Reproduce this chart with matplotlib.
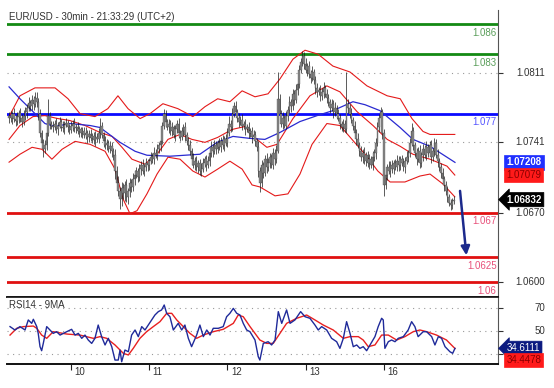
import numpy as np
import matplotlib
matplotlib.use("Agg")
import matplotlib.pyplot as plt

plt.rcParams['font.family'] = ['Liberation Sans', 'DejaVu Sans']

title = "EUR/USD - 30min - 21:33:29 (UTC+2)"
rsi_title = "RSI14 - 9MA"

# ---- price bars (30 min) : price = 1.0600 + pips / 10000 ----
base_price = 1.0600
first_open_pips = 166
close_pips = [
    168, 166, 170, 165, 163, 167, 171, 166, 162, 168,
    172, 176, 181, 178, 184, 180, 186, 182,
    170, 150, 140, 134, 138,
    150, 168, 160, 158,
    156, 160, 154, 158, 162, 157, 155, 159, 161, 156, 153, 158, 160, 155, 157, 152,
    154, 150, 152, 148, 150, 146, 149, 145, 147, 143, 146, 144, 150, 158,
    148, 142, 138, 140, 134, 137, 132, 128,
    112, 100, 92, 84, 95, 90, 98, 86, 92, 100, 96, 104,
    108, 112, 106, 114, 118, 112, 116, 120, 118,
    122, 126, 124, 130, 128, 134, 138, 142,
    158, 170, 162, 156,
    160, 152, 156, 148, 154, 160, 150, 146, 152, 156, 148, 142, 138, 132,
    124, 118, 122, 116, 120, 112, 114, 120, 124, 118, 122,
    130, 136, 132, 138, 134, 140, 136, 142, 138, 144, 140,
    150, 160, 156, 170, 178, 172,
    166, 162, 164, 158, 160, 154, 156, 150, 152, 146, 148, 142, 136,
    112, 100, 118, 110, 124, 116, 120, 126, 118, 130, 124, 132,
    185, 170, 160, 166, 158, 168, 174, 182, 178, 190, 184, 194, 200, 214,
    222, 228, 220, 214, 218, 210, 206, 212, 204,
    196, 192, 194, 188, 192, 196, 190, 186,
    182, 176, 180, 172, 176, 170, 166, 160,
    156, 160, 154, 180, 176,
    170, 164, 158, 150, 144, 138,
    132, 126, 130, 122, 128, 120, 124, 118, 126, 130, 140, 156,
    166, 172, 150,
    98, 108, 116,
    112, 118, 114, 120, 116, 122, 118, 124, 120, 116, 122, 126, 130, 140,
    152, 138, 130,
    124, 132, 120, 128, 134,
    128, 136, 130, 138, 126, 132, 140, 128, 122,
    116, 110, 104, 98, 92, 86, 80, 78, 82, 83.2]
upper_wick_pips = [
    4, 5, 3, 6, 4, 5, 3, 5, 4, 6,  5, 4, 6, 3, 5, 4, 6, 6, 4, 5,
    3, 4, 5, 6, 17, 4, 3, 5, 4, 6,  4, 5, 3, 6, 4, 5, 3, 4, 5, 4,
    6, 3, 5, 4, 3, 5, 4, 6, 3, 4,  5, 3, 4, 6, 4, 5, 8, 4, 3, 5,
    4, 3, 5, 4, 3, 6, 5, 7, 4, 6,  5, 4, 6, 3, 5, 4, 6, 5, 4, 3,
    5, 4, 6, 3, 5, 4, 3, 5, 4, 6,  4, 5, 3, 6, 4, 5, 4, 3, 5, 4,
    6, 3, 5, 4, 6, 3, 5, 4, 6, 3,  4, 5, 3, 6, 4, 5, 3, 4, 6, 5,
    3, 4, 5, 4, 6, 3, 5, 4, 3, 5,  4, 6, 3, 5, 5, 8, 4, 6, 4, 5,
    3, 5, 4, 6, 3, 5, 4, 6, 3, 4,  5, 4, 3, 6, 4, 5, 3, 4, 6, 5,
    4, 3, 5, 4, 6, 27, 5, 4, 6, 3,  5, 4, 6, 3, 5, 4, 6, 4, 5, 4,
    5, 4, 6, 3, 5, 4, 6, 3, 4, 5,  3, 5, 4, 6, 3, 5, 4, 3, 5, 4,
    6, 3, 5, 4, 3, 5, 4, 32, 5, 4,  6, 3, 5, 4, 6, 3, 5, 4, 6, 3,
    4, 5, 3, 6, 4, 5, 6, 4, 5, 3,  4, 5, 3, 6, 4, 5, 3, 4, 6, 5,
    3, 4, 5, 4, 6, 3, 5, 9, 4, 3,  5, 4, 6, 3, 5, 4, 6, 3, 4, 5,
    3, 5, 4, 6, 3, 4, 5, 3, 4, 5,  3, 4, 3, 4]
lower_wick_pips = [
    5, 4, 6, 3, 5, 4, 6, 4, 5, 3,  4, 6, 3, 5, 4, 6, 3, 5, 6, 4,
    5, 8, 4, 5, 3, 6, 4, 5, 3, 4,  6, 3, 5, 4, 6, 3, 5, 4, 3, 6,
    4, 5, 3, 6, 4, 5, 3, 4, 6, 5,  3, 5, 4, 6, 3, 4, 5, 3, 6, 4,
    5, 3, 4, 6, 5, 8, 6, 5, 10, 7,  6, 8, 5, 7, 6, 5, 4, 6, 3, 5,
    4, 6, 3, 5, 4, 6, 5, 3, 4, 5,  3, 5, 4, 6, 3, 4, 5, 3, 6, 4,
    5, 3, 6, 4, 5, 4, 3, 5, 6, 4,  5, 4, 6, 3, 5, 4, 6, 4, 5, 3,
    4, 6, 3, 5, 4, 6, 3, 5, 4, 3,  5, 4, 6, 3, 4, 3, 5, 4, 3, 5,
    4, 6, 3, 5, 4, 6, 3, 5, 4, 6,  3, 5, 4, 6, 9, 4, 5, 3, 6, 4,
    5, 3, 4, 6, 4, 2, 5, 4, 6, 3,  4, 5, 3, 6, 4, 5, 3, 5, 4, 3,
    4, 5, 3, 6, 4, 5, 3, 4, 6, 5,  3, 5, 4, 6, 3, 5, 4, 5, 3, 6,
    4, 5, 3, 6, 4, 5, 3, 4, 5, 4,  3, 5, 4, 6, 3, 5, 4, 6, 3, 5,
    4, 6, 3, 5, 4, 6, 3, 5, 4, 6,  11, 4, 5, 3, 6, 4, 5, 3, 4, 6,
    5, 3, 4, 6, 3, 5, 4, 3, 5, 4,  6, 3, 5, 4, 6, 3, 5, 4, 3, 6,
    4, 5, 3, 6, 4, 5, 3, 6, 4, 5,  3, 5, 4, 3]

# ---- overlays (bar index, pips above 1.0600) ----
bb_upper_idx = [0, 6.7, 15.9, 28.2, 36.2, 43.5, 52.7, 60.6, 66.8, 73, 80.4, 86.5, 94.4,
                103.6, 112.8, 120.2, 128, 135.5, 143, 150.9, 158.9, 166.2, 174.2, 181.6,
                189.6, 198.7, 209.2, 219.6, 232, 240, 247.2, 254, 258.3, 273.5]
bb_upper_pips = [167, 188, 196, 196, 185, 170, 167, 175, 188, 175, 165, 170, 180,
                 175, 167, 177, 185, 182, 193, 187, 190, 205, 225, 234,
                 230, 218, 212, 198, 188, 185, 165, 152, 149, 149]
bb_mid_idx = [0, 6.7, 14.7, 22, 30, 37.4, 46.6, 55.8, 63.2, 69.3, 75.4, 83.4, 90.8, 97.5,
              104.9, 112.2, 120.2, 128, 136.8, 144.7, 152.1, 158.2, 164.4, 174.2, 184.6,
              195, 203, 213.5, 223.3, 232, 240, 247.8, 258.3, 268.7, 273.5]
bb_mid_pips = [144, 158, 167, 168, 165, 163, 158, 151, 147, 136, 124, 119, 129, 144,
               149, 144, 141, 146, 154, 157, 144, 136, 139, 165, 188,
               198, 192, 172, 158, 144, 137, 129, 124, 117, 108]
bb_lower_idx = [0, 6.7, 14.1, 20.2, 26.3, 32.5, 40.5, 49.7, 58.9, 65, 69.9, 74.2, 78.5,
                84.6, 90.8, 97.5, 104.9, 112.8, 120.2, 128, 135.5, 143, 149.1, 153.9,
                163.2, 171.1, 178.5, 185.9, 195, 203, 210.4, 218.4, 226.3, 233.8, 242.9,
                252.1, 258.3, 266.2, 273.5]
bb_lower_pips = [121, 129, 136, 134, 124, 134, 142, 139, 132, 114, 84, 69, 72,
                 89, 109, 126, 124, 112, 106, 114, 122, 114, 98, 96,
                 87, 89, 109, 139, 160, 158, 144, 129, 112, 101, 101,
                 107, 109, 99, 86]
ma_idx = [0, 6.7, 14.7, 22, 28.2, 37.4, 49.7, 55.8, 68.1, 77.3, 84.6, 98.7, 117.1, 127.6,
          137.4, 147.8, 157, 166.2, 178.5, 190.8, 198.7, 211, 218.4, 227.6, 239.9, 247.8,
          258.3, 273.6]
ma_pips = [197, 185, 172, 160, 157, 160, 158, 156, 141, 132, 128, 127, 129, 141,
           147, 145, 144, 151, 162, 169, 173, 182, 179, 173, 156, 144, 137, 120.8]

# ---- RSI ----
rsi_idx = [0.6, 3.6, 6.7, 9.8, 11.8, 13.9, 14.9, 17, 17.9, 19, 20, 21, 23.1, 25.1, 27.1,
           29.2, 31.3, 33.3, 35.4, 38.4, 40.5, 42.5, 44.6, 46.6, 48.6, 50.7, 52.7, 54.7,
           56.8, 58.9, 60.9, 63, 65, 67, 68.1, 69.1, 71.1, 73.2, 75.2, 77.3, 79.3, 81.4,
           83.4, 85.4, 87.5, 89.5, 91.6, 93.6, 95.2, 96.7, 98.7, 100.8, 103.8, 105.9,
           107.9, 110, 112, 115.1, 117.1, 119.2, 121.3, 123.3, 125.3, 128.4, 131.4,
           133.5, 135.5, 137.6, 139.7, 141.7, 143.7, 145.8, 147.8,
           150.9, 152.9, 153.9, 156, 159, 161.1, 163.2, 165.2, 167.3, 170.3, 172.4,
           175.4, 178.9, 181.6, 184.6, 187.7, 189.7, 191.8, 194.9, 197.9, 201, 203,
           205.1, 207.1, 209.2, 211.2, 213.3, 215.3, 217.3, 219.4, 221.5, 224.5, 226.5,
           228.6, 229.6, 230.6, 232.7, 234.7, 236.8, 238.8, 241.9, 244.9, 247, 249, 251,
           253.1, 254.1, 256.2, 259.3, 261.3, 263.4, 265.4, 267.5, 270.5, 272.2, 273.6]
rsi_val = [53.9, 50.9, 53.9, 50.9, 59.8, 56.8, 60.4, 53.9, 47.9, 36.1, 32.5, 39.0, 53.9,
           50.9, 47.9, 49.4, 46.4, 47.9, 49.4, 51.5, 46.4, 47.9, 43.5, 46.4, 42.0, 39.0,
           43.5, 55.3, 45.0, 37.6, 43.5, 36.1, 24.2, 24.2, 33.1, 22.7, 33.1, 31.6, 46.4,
           50.9, 45.0, 53.9, 50.9, 55.3, 59.8, 64.2, 67.2, 68.7, 73.1, 65.7, 62.7, 50.9,
           56.8, 50.9, 55.3, 43.5, 36.1, 46.4, 55.3, 45.0, 50.9, 46.4, 52.4, 52.4, 53.9,
           62.7, 65.7, 70.1, 65.7, 64.2, 56.8, 50.9, 49.4,
           42.0, 27.2, 24.2, 39.0, 40.5, 37.6, 42.0, 67.2, 56.8, 68.7, 56.8, 59.8, 67.2,
           62.7, 61.3, 55.3, 50.9, 53.9, 50.9, 43.5, 40.5, 34.6, 43.5, 58.3, 47.9, 36.1,
           37.6, 34.6, 36.1, 32.5, 37.6, 45.0, 53.9, 61.3, 59.8, 34.6, 40.5, 42.0, 40.5,
           43.5, 45.0, 50.9, 58.3, 53.9, 45.0, 47.9, 49.4, 49.4, 45.0, 37.6, 45.0, 43.5,
           36.1, 31.6, 30.2, 34.6111]
rsi_ma_idx = [0.6, 4.7, 8.8, 14.9, 17, 20, 23.1, 27.1, 35.4, 43.5, 51.7, 55.8, 59.9, 65,
              70.1, 73.2, 76.2, 80.3, 84.4, 88.5, 92.6, 96.7, 99.8, 102.9, 106.9, 111,
              115.1, 119.2, 125.3, 131.4, 137.6, 140.6, 143.7, 147.8, 153.9, 158.1, 162.1,
              166.2, 170.3, 176.5, 182.6, 187.7, 192.8, 198.9, 205.1, 209.2, 214.3, 217.3,
              220.4, 224.5, 228.6, 232.7, 237.8, 242.9, 248, 252.1, 256.2, 262.3, 268.4,
              273.6]
rsi_ma_val = [46.4, 52.4, 53.9, 54.4, 52.4, 46.4, 43.5, 49.4, 47.3, 46.4, 43.5, 45.0, 43.5,
              37.6, 30.2, 28.7, 34.6, 43.5, 49.4, 53.9, 58.3, 65.7, 65.7, 59.8, 53.9, 47.9,
              43.5, 46.4, 49.4, 51.5, 56.8, 64.2, 62.7, 54.0, 42.0, 39.0, 39.0, 47.9, 56.8,
              61.3, 64.2, 59.8, 55.3, 50.9, 43.5, 45.0, 45.0, 42.0, 36.1, 37.6, 46.4, 46.4,
              42.0, 45.0, 49.4, 50.9, 49.4, 46.4, 42.0, 34.4478]

# ---- axes / labels ----
day_bar_index = [38, 86, 134, 182, 230]
day_labels = ["10", "11", "12", "13", "16"]
price_ticks = [1.0600, 1.0670, 1.0741, 1.0811]
price_tick_labels = ["1.0600", "1.0670", "1.0741", "1.0811"]
rsi_ticks = [50, 70]
rsi_grid = [30, 50, 70]
levels = [1.086, 1.083, 1.077, 1.067, 1.0625, 1.06]
level_labels = ["1.086", "1.083", "1.077", "1.067", "1.0625", "1.06"]
level_kind = ["g", "g", "b", "r", "r", "r"]
last_price = 1.06832
ma_last = 1.07208
bb_mid_last = 1.07079
rsi_last = 34.6111
rsi_ma_last = 34.4478
arrow_start = (276.7, 1.0692)
arrow_end = (280.6, 1.0627)

# ------------------------------------------------------------------
W, H = 554, 388
fig = plt.figure(figsize=(W / 100, H / 100), dpi=100)
fig.patch.set_facecolor("white")
L, R = 7, 498
ax1 = fig.add_axes([L / W, 1 - 297 / H, (R - L) / W, (297 - 10) / H])
ax2 = fig.add_axes([L / W, 1 - 364 / H, (R - L) / W, (364 - 297) / H])

def px(p):
    return base_price + np.asarray(p, dtype=float) / 10000.0

c = px(close_pips)
o = np.r_[px(first_open_pips), c[:-1]]
hi = np.maximum(o, c) + np.asarray(upper_wick_pips) / 10000.0
lo = np.minimum(o, c) - np.asarray(lower_wick_pips) / 10000.0
idx = np.arange(len(c))

level_colors = {"g": "#138a13", "b": "#0a0aff", "r": "#e01010"}
label_colors = {"g": "#5a9e5a", "b": "#5555ff", "r": "#e8507a"}

ax1.set_xlim(-1.26, 300)
ax1.set_ylim(1.05849, 1.08746)
ax1.set_yticks(price_ticks)
ax1.grid(axis="y", linestyle=(0, (1, 4)), color="#9a9a9a", lw=0.8)
for lv, kind in zip(levels, level_kind):
    ax1.axhline(lv, color=level_colors[kind], lw=2, zorder=2)

ax1.plot(bb_upper_idx, px(bb_upper_pips), color="#e41a1a", lw=0.8, zorder=3)
ax1.plot(bb_mid_idx, px(bb_mid_pips), color="#e41a1a", lw=0.8, zorder=3)
ax1.plot(bb_lower_idx, px(bb_lower_pips), color="#e41a1a", lw=0.8, zorder=3)
ax1.plot(ma_idx, px(ma_pips), color="#2a2ad0", lw=0.9, zorder=3)

ax1.vlines(idx, lo, hi, color="#1a1a1a", lw=0.5, zorder=4)
ax1.bar(idx, c - o, bottom=o, width=1.0, color="#8a8a8a", edgecolor="#333333",
        linewidth=0.2, zorder=5)

for lv, lab, kind in zip(levels, level_labels, level_kind):
    ax1.annotate(lab, xy=(1.0, lv), xycoords=("axes fraction", "data"),
                 xytext=(-1, -2.5), textcoords="offset points", ha="right", va="top",
                 fontsize=7, color=label_colors[kind], zorder=6)

ax1.annotate("", xy=arrow_end, xytext=arrow_start,
             arrowprops=dict(arrowstyle="-|>", color="#1c2a8c", lw=1.8,
                             mutation_scale=13, shrinkA=0, shrinkB=0), zorder=7)

for sp in ["top", "left"]:
    ax1.spines[sp].set_visible(False)
ax1.spines["bottom"].set_color("#111111")
ax1.spines["bottom"].set_linewidth(1.2)
ax1.spines["right"].set_color("#555555")
ax1.tick_params(axis="y", left=False, right=True, labelleft=False, labelright=False,
                length=3.5, width=0.8, color="#333333", direction="out")
ax1.tick_params(axis="x", bottom=False, labelbottom=False)
for t, lab in zip(price_ticks, price_tick_labels):
    ax1.annotate(lab, xy=(1.0, t), xycoords=("axes fraction", "data"),
                 xytext=(34, 0), textcoords="offset points", ha="right", va="center",
                 fontsize=7, color="#333333", annotation_clip=False)

def side_box(ax, val, text, fc, tc, style, dy=0, bold=False, dx=6):
    ax.annotate(text, xy=(1.0, val), xycoords=("axes fraction", "data"),
                xytext=(dx, dy), textcoords="offset points", ha="left", va="center",
                fontsize=7, color=tc, fontweight="bold" if bold else "normal",
                annotation_clip=False, zorder=10,
                bbox=dict(boxstyle=style, fc=fc, ec=fc, lw=0.5))

side_box(ax1, ma_last, "1.07208", "#1f2fff", "white", "square,pad=0.22", bold=True)
side_box(ax1, bb_mid_last, "1.07079", "#ff1a1a", "#8a0000", "square,pad=0.22")
side_box(ax1, last_price, "1.06832", "black", "white", "larrow,pad=0.22", bold=True)

fig.text(9 / W, 1 - 17 / H, title, ha="left", va="center", fontsize=7, color="#333333")

# ---- RSI panel ----
ax2.set_xlim(-1.26, 300)
ax2.set_ylim(20.7, 80.2)
ax2.set_yticks(rsi_grid)
ax2.grid(axis="y", linestyle=(0, (1, 4)), color="#9a9a9a", lw=0.8)
ax2.plot(rsi_ma_idx, rsi_ma_val, color="#e82020", lw=1.0, zorder=3)
ax2.plot(rsi_idx, rsi_val, color="#1f2a9a", lw=1.0, zorder=4)
ax2.spines["left"].set_visible(False)
ax2.spines["top"].set_color("#111111")
ax2.spines["top"].set_linewidth(1.2)
ax2.spines["bottom"].set_color("#111111")
ax2.spines["bottom"].set_linewidth(1.4)
ax2.spines["right"].set_color("#555555")
ax2.tick_params(axis="y", left=False, right=True, labelleft=False, labelright=False,
                length=3.5, width=0.8, color="#333333", direction="out")
for t in rsi_ticks:
    ax2.annotate(str(t), xy=(1.0, t), xycoords=("axes fraction", "data"),
                 xytext=(34, 0), textcoords="offset points", ha="right", va="center",
                 fontsize=7, color="#333333", annotation_clip=False)
ax2.set_xticks(day_bar_index)
ax2.set_xticklabels([])
ax2.tick_params(axis="x", length=4.5, width=0.8, color="#222222", direction="out")
for d, lab in zip(day_bar_index, day_labels):
    ax2.annotate(lab, xy=(d, 0), xycoords=("data", "axes fraction"),
                 xytext=(2.5, -2.2), textcoords="offset points", ha="left", va="top",
                 fontsize=7, color="#333333", annotation_clip=False)
ax2.text(0.004, 0.88, rsi_title, transform=ax2.transAxes, ha="left", va="center",
         fontsize=7, color="#333333")
side_box(ax2, rsi_last, "34.6111", "#0c1a80", "white", "larrow,pad=0.22", bold=False)
side_box(ax2, rsi_ma_last, "34.4478", "#ff1a1a", "#8a0000", "square,pad=0.22", dy=-8.5)

fig.savefig("out.png", dpi=100, facecolor="white")
